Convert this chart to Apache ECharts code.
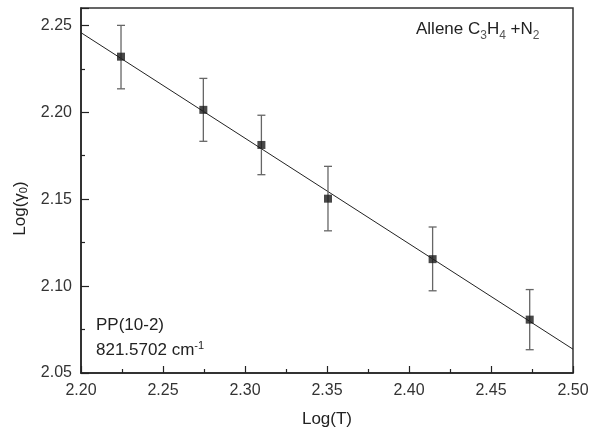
<!DOCTYPE html>
<html>
<head>
<meta charset="utf-8">
<script src="https://cdn.jsdelivr.net/npm/echarts@6/dist/echarts.min.js"></script>
<style>
html,body{margin:0;padding:0;background:#fff;}
#chart{width:601px;height:428px;}
</style>
</head>
<body>
<div id="chart"></div>
<script>
// Data
var logT = [2.2244, 2.2746, 2.3100, 2.3506, 2.4144, 2.4736];
var logGamma = [2.2320, 2.2014, 2.1812, 2.1503, 2.1155, 2.0807];
var errHigh = [2.2500, 2.2195, 2.1983, 2.1689, 2.1340, 2.0980];
var errLow = [2.2135, 2.1833, 2.1641, 2.1318, 2.0973, 2.0634];
var fitX = [2.20, 2.50];
var fitY = [2.2458, 2.0637];

var FONT = '"Liberation Sans", Arial, sans-serif';
var chart = echarts.init(document.getElementById('chart'), null, {renderer: 'canvas'});

var points = logT.map(function (x, i) { return [x, logGamma[i]]; });
var errs = logT.map(function (x, i) { return [x, errLow[i], errHigh[i]]; });
var fit = fitX.map(function (x, i) { return [x, fitY[i]]; });

function fmt(v) {
  var r = Math.round(v * 100) / 100;
  if (Math.abs(r * 20 - Math.round(r * 20)) > 1e-6 || Math.abs(v - r) > 1e-6) return '';
  return r.toFixed(2);
}

var option = {
  animation: false,
  backgroundColor: '#fff',
  grid: {left: 81, right: 28, top: 8, bottom: 55, containLabel: false, outerBoundsMode: 'none',
    show: true, borderColor: '#333', borderWidth: 1.5, backgroundColor: 'transparent'},
  xAxis: {
    type: 'value', min: 2.20, max: 2.50, interval: 0.05,
    name: 'Log(T)', nameLocation: 'middle', nameGap: 38,
    nameTextStyle: {fontFamily: FONT, fontSize: 17, color: '#222'},
    axisLine: {show: true, lineStyle: {color: '#222', width: 1.5}},
    axisTick: {show: true, inside: true, length: 7, lineStyle: {color: '#222', width: 1.2}},
    minorTick: {show: true, splitNumber: 2, length: 4, lineStyle: {color: '#222', width: 1.2}},
    splitLine: {show: false},
    axisLabel: {fontFamily: FONT, fontSize: 16, color: '#333', margin: 10, formatter: fmt}
  },
  yAxis: {
    type: 'value', min: 2.05, max: 2.26, interval: 0.05,
    name: 'Log(γ{sub|0})', nameLocation: 'middle', nameGap: 52, nameRotate: 90,
    nameTextStyle: {fontFamily: FONT, fontSize: 17, color: '#222', padding: [0, 36, 0, 0],
      rich: {sub: {fontFamily: FONT, fontSize: 11, color: '#222', verticalAlign: 'bottom', padding: [6, 0, 0, 0]}}},
    axisLine: {show: true, lineStyle: {color: '#222', width: 1.5}},
    axisTick: {show: true, inside: true, length: 8, lineStyle: {color: '#222', width: 1.2}},
    minorTick: {show: true, splitNumber: 2, length: 4, lineStyle: {color: '#222', width: 1.2}},
    splitLine: {show: false},
    axisLabel: {fontFamily: FONT, fontSize: 16, color: '#333', margin: 9, formatter: fmt, showMaxLabel: false}
  },
  series: [
    {
      type: 'line', data: fit, symbol: 'none', silent: true,
      lineStyle: {color: '#222', width: 1}, z: 2
    },
    {
      type: 'custom', data: errs, z: 3,
      renderItem: function (params, api) {
        var x = api.value(0);
        var lo = api.coord([x, api.value(1)]);
        var hi = api.coord([x, api.value(2)]);
        var hw = 4;
        var st = {stroke: '#666', lineWidth: 1.3};
        return {
          type: 'group',
          children: [
            {type: 'line', shape: {x1: lo[0], y1: lo[1], x2: hi[0], y2: hi[1]}, style: st},
            {type: 'line', shape: {x1: lo[0] - hw, y1: lo[1], x2: lo[0] + hw, y2: lo[1]}, style: st},
            {type: 'line', shape: {x1: hi[0] - hw, y1: hi[1], x2: hi[0] + hw, y2: hi[1]}, style: st}
          ]
        };
      }
    },
    {
      type: 'scatter', data: points, symbol: 'rect', symbolSize: 8, z: 4,
      itemStyle: {color: '#1a1a1a'}
    }
  ],
  graphic: [
    {
      type: 'text', left: 416, top: 21,
      style: {
        text: 'Allene C{sub|3}H{sub|4} +N{sub|2}',
        font: '17px ' + FONT, fill: '#222',
        rich: {sub: {fontSize: 12, fontFamily: FONT, fill: '#555', padding: [13, 0, 0, 0]}}
      }
    },
    {
      type: 'text', left: 96, top: 317,
      style: {text: 'PP(10-2)', font: '17px ' + FONT, fill: '#222'}
    },
    {
      type: 'text', left: 96, top: 340,
      style: {
        text: '821.5702 cm{sup|-1}',
        font: '17px ' + FONT, fill: '#222',
        rich: {sup: {fontSize: 11, fontFamily: FONT, fill: '#222', padding: [0, 0, 10, 0]}}
      }
    }
  ]
};
chart.setOption(option);
</script>
</body>
</html>
